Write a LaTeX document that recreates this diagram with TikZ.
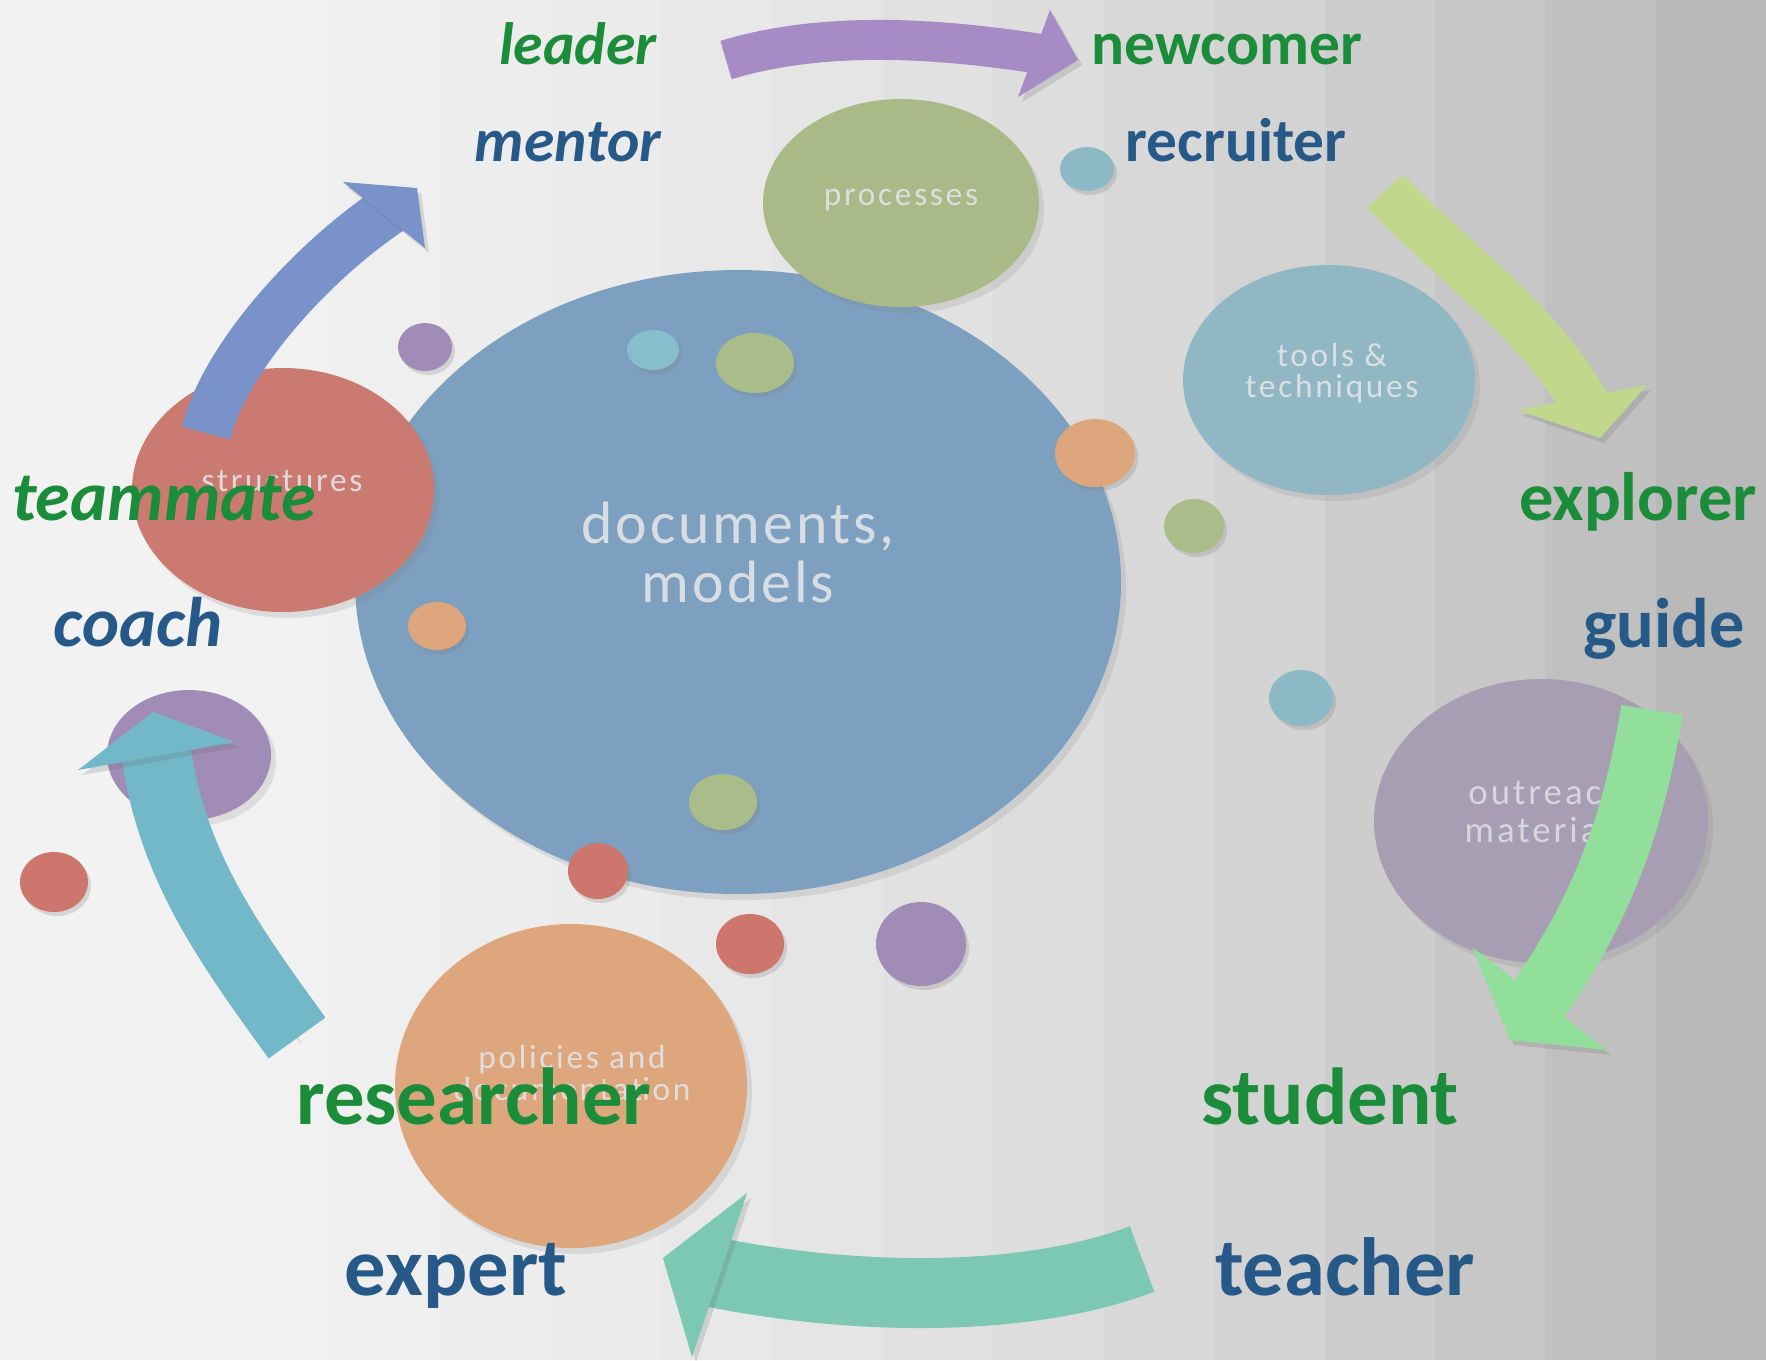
\documentclass[tikz,border=0pt]{standalone}
\usepackage{fontspec}
\setmainfont{Carlito}
\usetikzlibrary{calc,shapes.geometric,shadows}

\definecolor{rolegreen}{RGB}{26,140,58}
\definecolor{roleblue}{RGB}{38,88,136}
\definecolor{docblue}{RGB}{125,160,192}
\definecolor{procgreen}{RGB}{170,185,136}
\definecolor{toolteal}{RGB}{145,183,197}
\definecolor{structred}{RGB}{203,122,114}
\definecolor{outpurple}{RGB}{168,158,180}
\definecolor{polorange}{RGB}{222,166,124}
\definecolor{dotpurple}{RGB}{160,140,182}
\definecolor{dotcyan}{RGB}{134,190,205}
\definecolor{dotteal}{RGB}{141,184,198}
\definecolor{dotgreen}{RGB}{170,188,138}
\definecolor{dotred}{RGB}{204,118,110}
\definecolor{arrpurple}{RGB}{167,139,197}
\definecolor{arrblue}{RGB}{121,146,202}
\definecolor{arrlime}{RGB}{192,215,140}
\definecolor{arrgreen}{RGB}{146,222,155}
\definecolor{arrmint}{RGB}{124,200,178}
\definecolor{arrteal}{RGB}{114,184,200}
\definecolor{bubbletxt}{RGB}{226,228,232}

\tikzset{
  rolelabel/.style={anchor=base, inner sep=0pt, font=\bfseries\fontsize{#1}{#1}\selectfont},
  roleslant/.style={anchor=base, inner sep=0pt, font=\bfseries\itshape\fontsize{#1}{#1}\selectfont},
  bubble/.style={ellipse, inner sep=0pt, drop shadow={opacity=0.18, shadow xshift=0.5mm, shadow yshift=-0.6mm}},
  bubbletext/.style={align=center, inner sep=0pt, text=bubbletxt, text opacity=0.9, font=\fontsize{9.5}{9}\selectfont\addfontfeatures{LetterSpace=8}},
  dot/.style={drop shadow={opacity=0.25, shadow xshift=0.3mm, shadow yshift=-0.4mm}},
  arrbody/.style={line width=#1, line cap=butt},
  arrshadow/.style={preaction={draw=black!60, opacity=0.2, transform canvas={shift={(0.4mm,-0.5mm)}}}},
  headshadow/.style={preaction={fill=black!60, opacity=0.2, transform canvas={shift={(0.4mm,-0.5mm)}}}},
}

\begin{document}
\begin{tikzpicture}[x=0.1mm,y=-0.1mm]
\useasboundingbox (0,0) rectangle (1766,1360);
% background bands
\foreach \i in {0,...,15} {
  \pgfmathsetmacro\bgshade{5+24*((\i+0.5)/16)^2}
  \fill[black!\bgshade] (\i*110.375,0) rectangle (\i*110.375+111,1360);
}

% bubbles
\node[bubble, fill=docblue, minimum width=76.6mm, minimum height=62.4mm] (docs) at (738,582) {};
\node[bubble, fill=structred, minimum width=30.2mm, minimum height=24.4mm] (struct) at (283,490) {};
\node[bubble, fill=procgreen, minimum width=27.6mm, minimum height=20.8mm] (proc) at (901,203) {};
\node[bubble, fill=toolteal, minimum width=29.2mm, minimum height=23mm] (tool) at (1329,380) {};
\node[bubble, fill=outpurple, minimum width=33.4mm, minimum height=28.4mm] (out) at (1541,821) {};
\node[bubble, fill=polorange, minimum width=35.2mm, minimum height=32.4mm] (pol) at (571,1086) {};
\node[bubble, fill=dotpurple, minimum width=16.4mm, minimum height=13mm] (disc) at (189,755) {};

\foreach \x/\y/\rx/\ry/\c in {425/347/27/24/dotpurple, 653/350/26/20/dotcyan, 755/363/39/30/dotgreen,
  1095/453/40/34/polorange, 1087/169/27/22/dotteal, 1194/526/30/27/dotgreen, 437/626/29/24/polorange,
  1301/698/32/28/dotteal, 723/802/34/28/dotgreen, 598/871/30/28/dotred, 750/944/34/30/dotred,
  921/944/45/42/dotpurple, 54/882/34/30/dotred}
  \fill[dot, \c] (\x,\y) ellipse [x radius=\rx, y radius=\ry];

\node[bubbletext, font=\fontsize{17}{16.8}\selectfont\addfontfeatures{LetterSpace=5}] (docs-t) at (738,552) {documents,\\models};
\node[bubbletext, anchor=base] (proc-t) at (901,205) {processes};
\node[bubbletext] (tool-t) at (1332,373) {tools \&\\techniques};
\node[bubbletext, anchor=base] (struct-t) at (282,491) {structures};
\node[bubbletext] (pol-t) at (572,1073) {policies and\\documentation};
\node[bubbletext, text opacity=0.8, font=\fontsize{10.5}{10.8}\selectfont\addfontfeatures{LetterSpace=8}] (out-t) at (1546,811) {outreach\\materials};

% arrows
\coordinate (lead-tail) at (726,60);
\coordinate (lead-tip) at (1078,60);
\draw[arrbody=4mm, arrpurple, arrshadow] (lead-tail) .. controls (822,31) and (935,37) .. ($(1034,53)!0.3!(lead-tip)$);
\fill[arrpurple, headshadow] (1050,10) -- (lead-tip) -- (1018,97) -- cycle;

\coordinate (recr-tail) at (1385,191);
\coordinate (recr-tip) at (1600,438);
\draw[arrbody=4.9mm, arrlime, arrshadow] (recr-tail) .. controls (1432,243) and (1550,330) .. ($(1582,397)!0.3!(recr-tip)$);
\fill[arrlime, headshadow] (1517,410) -- (recr-tip) -- (1647,385) -- cycle;

\coordinate (guide-tail) at (1652,710);
\coordinate (guide-tip) at (1510,1040);
\draw[arrbody=6.2mm, arrgreen, arrshadow] (guide-tail) .. controls (1634,819) and (1604,909) .. ($(1540,998)!0.3!(guide-tip)$);
\fill[arrgreen, headshadow] (1472,947) -- (guide-tip) -- (1607,1050) -- cycle;

\coordinate (teach-tail) at (1142,1259);
\coordinate (teach-tip) at (663,1258);
\draw[arrbody=7mm, arrmint, arrshadow] (teach-tail) .. controls (1020,1305) and (844,1300) .. ($(719,1275)!0.3!(teach-tip)$);
\fill[arrmint, headshadow] (747,1193) -- (teach-tip) -- (692,1357) -- cycle;

\coordinate (res-tail) at (297,1038);
\coordinate (res-tip) at (153,712);
\draw[arrbody=7mm, arrteal, arrshadow] (res-tail) .. controls (233,949) and (169,865) .. ($(156,756)!0.3!(res-tip)$);
\fill[arrteal, headshadow] (78,770) -- (res-tip) -- (235,742) -- cycle;

\coordinate (team-tail) at (206,433);
\coordinate (team-tip) at (417,188);
\draw[arrbody=5mm, arrblue, arrshadow] (team-tail) .. controls (224,360) and (310,262) .. ($(384,215)!0.3!(team-tip)$);
\fill[arrblue, headshadow] (343,182) -- (team-tip) -- (425,248) -- cycle;

% roles
\node[roleslant=17, text=rolegreen] (leader) at (578,64) {leader};
\node[rolelabel=17.5, text=rolegreen] (newcomer) at (1227,64) {newcomer};
\node[roleslant=17.5, text=roleblue] (mentor) at (568,161) {mentor};
\node[rolelabel=17.5, text=roleblue] (recruiter) at (1236,161) {recruiter};
\node[roleslant=20, text=rolegreen] (teammate) at (164,520) {teammate};
\node[rolelabel=19.5, text=rolegreen] (explorer) at (1638,520) {explorer};
\node[roleslant=20, text=roleblue] (coach) at (138,646) {coach};
\node[rolelabel=20, text=roleblue] (guide) at (1664,647) {guide};
\node[rolelabel=23, text=rolegreen] (researcher) at (474,1124) {researcher};
\node[rolelabel=23, text=rolegreen] (student) at (1330,1124) {student};
\node[rolelabel=23.5, text=roleblue] (expert) at (456,1295) {expert};
\node[rolelabel=23.5, text=roleblue] (teacher) at (1345,1295) {teacher};
\end{tikzpicture}
\end{document}
